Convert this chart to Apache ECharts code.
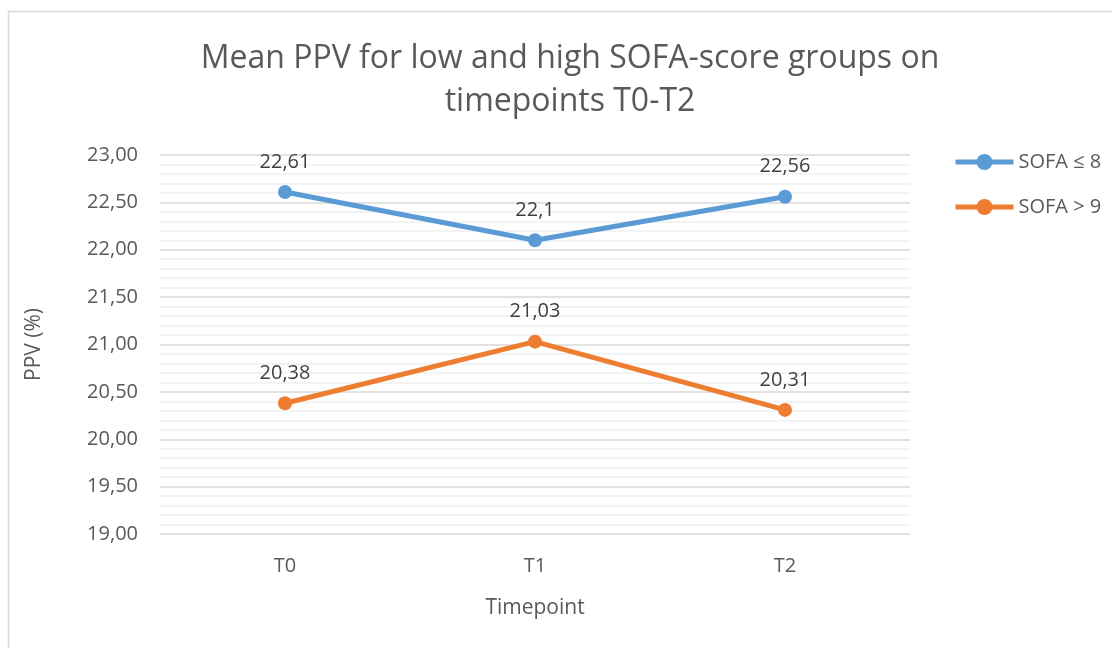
<!DOCTYPE html>
<html>
<head>
<meta charset="utf-8">
<script src="https://cdn.jsdelivr.net/npm/echarts@6/dist/echarts.min.js"></script>
<style>
  html, body { margin: 0; padding: 0; background: #fff; }
  #chart { width: 1112px; height: 648px; }
</style>
</head>
<body>
<div id="chart"></div>
<script>
// 数据
const timepoints = ["T0", "T1", "T2"];
const sofaLow = [22.61, 22.1, 22.56];
const sofaHigh = [20.38, 21.03, 20.31];
const seriesNames = ["SOFA ≤ 8", "SOFA > 9"];

const FONT = "'Open Sans', 'Noto Sans', sans-serif";
const COLORS = ["#5b9bd5", "#ed7d31"];

function fmtComma(v) {
  return String(v).replace(".", ",");
}

function lineSeries(name, data, color) {
  return {
    name: name, type: "line", data: data,
    symbol: "circle", symbolSize: 14,
    lineStyle: { width: 5, color: color },
    itemStyle: { color: color },
    label: {
      show: true, position: "top", distance: 13,
      color: "#404040", fontSize: 20, fontFamily: FONT,
      formatter: p => fmtComma(p.value),
    },
  };
}

const chart = echarts.init(document.getElementById("chart"));
chart.setOption({
  backgroundColor: "#fff",
  animation: false,
  title: {
    text: "Mean PPV for low and high SOFA-score groups on\ntimepoints T0-T2",
    left: 565, textAlign: "center", top: 32,
    textStyle: { color: "#595959", fontSize: 32, fontWeight: "normal", fontFamily: FONT, lineHeight: 43 },
  },
  legend: {
    orient: "vertical", left: 948, top: 147, itemGap: 25,
    itemWidth: 58, itemHeight: 20,
    lineStyle: { width: 5 },
    textStyle: { color: "#595959", fontSize: 20, fontFamily: FONT },
    data: seriesNames,
  },
  grid: { left: 160, right: 202, top: 155, bottom: 114 },
  xAxis: {
    type: "category", data: timepoints, boundaryGap: true,
    name: "Timepoint", nameLocation: "middle", nameGap: 64,
    nameTextStyle: { color: "#595959", fontSize: 21, fontFamily: FONT },
    axisLine: { show: false }, axisTick: { show: false },
    axisLabel: { color: "#595959", fontSize: 20, fontFamily: FONT, margin: 22 },
  },
  yAxis: {
    type: "value", min: 19, max: 23, interval: 0.5,
    name: "PPV (%)", nameLocation: "middle", nameGap: 115, nameRotate: 90,
    nameTextStyle: { color: "#595959", fontSize: 21, fontFamily: FONT },
    axisLine: { show: false }, axisTick: { show: false },
    axisLabel: { color: "#595959", fontSize: 20, fontFamily: FONT, margin: 22,
      formatter: v => v.toFixed(2).replace(".", ",") },
    splitLine: { lineStyle: { color: "#d9d9d9", width: 1.5 } },
    minorTick: { show: false, splitNumber: 5 },
    minorSplitLine: { show: true, lineStyle: { color: "#efefef", width: 1.5 } },
  },
  graphic: [{
    type: "rect", silent: true, z: -1,
    shape: { x: 8.5, y: 11.5, width: 1200, height: 1000 },
    style: { fill: "none", stroke: "#d9d9d9", lineWidth: 1.5 },
  }],
  series: [
    lineSeries(seriesNames[0], sofaLow, COLORS[0]),
    lineSeries(seriesNames[1], sofaHigh, COLORS[1]),
  ],
});
</script>
</body>
</html>
